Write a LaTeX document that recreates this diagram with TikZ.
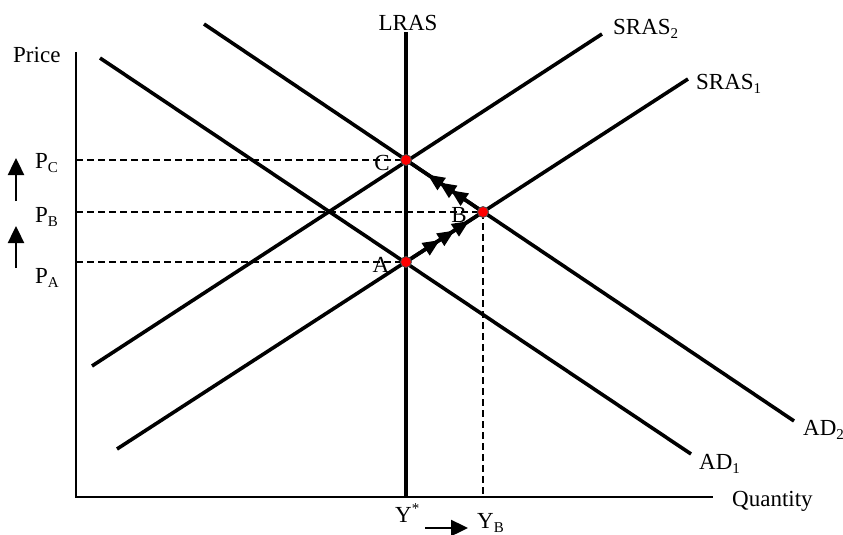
\documentclass[tikz,border=0pt]{standalone}
\usepackage{fontspec}
\setmainfont{Liberation Serif}
\usepackage{tikz}
\usetikzlibrary{arrows.meta,decorations.markings}
\newcommand{\lowtxt}[1]{\raisebox{-4pt}{\fontsize{15}{15}\selectfont #1}}
\newcommand{\hightxt}[1]{\raisebox{9pt}{\fontsize{15}{15}\selectfont #1}}
\tikzset{
  curve/.style={line width=3.6pt,draw=black},
  axis/.style={line width=2.4pt,draw=black},
  guide/.style={line width=1.8pt,dash pattern=on 7pt off 4pt},
  lbl/.style={inner sep=0pt,font=\fontsize{23}{27}\selectfont},
  eqpt/.style={circle,fill=red,draw=black!70,line width=0.8pt,inner sep=0pt,minimum size=11pt},
  tip/.style={-{Triangle[length=17pt,width=16pt]},line width=2.4pt},
  move/.style n args={3}{line width=3.6pt,postaction={decorate},decoration={markings,
    mark=at position #1 with {\arrow{Triangle[length=17pt,width=14pt]}},
    mark=at position #2 with {\arrow{Triangle[length=17pt,width=14pt]}},
    mark=at position #3 with {\arrow{Triangle[length=17pt,width=14pt]}}}},
}
\begin{document}
\begin{tikzpicture}[x=1pt,y=-1pt]
  \useasboundingbox (0,0) rectangle (843,535);
  % axes
  \coordinate (org) at (76,497);
  \coordinate (ytop) at (76,52);
  \coordinate (xend) at (713,497);
  \draw[axis] (ytop)--(org)--(xend);
  % equilibria
  \coordinate (A) at (406,262);
  \coordinate (B) at (483,212);
  \coordinate (C) at (406,160);
  % guides
  \coordinate (pc) at (76,160);
  \coordinate (pb) at (76,212);
  \coordinate (pa) at (76,262);
  \coordinate (yb) at (483,497);
  \draw[guide] (pc)--(C);
  \draw[guide] (pb)--(B);
  \draw[guide] (pa)--(A);
  \draw[guide] (B)--(yb);
  % curves
  \coordinate (lras0) at (406,497);
  \coordinate (lras1) at (406,32);
  \coordinate (ad1s) at (100,58);
  \coordinate (ad1e) at (691,454);
  \coordinate (ad2s) at (204,24);
  \coordinate (ad2e) at (794,421);
  \coordinate (sr1s) at (117,449);
  \coordinate (sr1e) at (688,79);
  \coordinate (sr2s) at (92,366);
  \coordinate (sr2e) at (602,34);
  \foreach \a/\b in {lras0/lras1,ad1s/ad1e,ad2s/ad2e,sr1s/sr1e,sr2s/sr2e}
    \draw[curve] (\a)--(\b);
  \draw[move={0.44}{0.63}{0.82}] (A)--(B);
  \draw[move={0.42}{0.57}{0.72}] (B)--(C);
  \node[eqpt] (ptA) at (A) {};
  \node[eqpt] (ptB) at (B) {};
  \node[eqpt] (ptC) at (C) {};
  % labels
  \node[lbl,anchor=base] (lA) at (381,272) {A};
  \node[lbl,anchor=base] (lB) at (459,222) {B};
  \node[lbl,anchor=base] (lC) at (382,170) {C};
  \node[lbl,anchor=base] (lras) at (408,31) {LRAS};
  \node[lbl,anchor=base west] (price) at (13,63) {Price};
  \node[lbl,anchor=base west] (qty) at (732,506) {Quantity};
  \node[lbl,anchor=base west] (sr1l) at (696,89) {SRAS\lowtxt{1}};
  \node[lbl,anchor=base west] (sr2l) at (613,35) {SRAS\lowtxt{2}};
  \node[lbl,anchor=base west] (ad1l) at (699,469) {AD\lowtxt{1}};
  \node[lbl,anchor=base west] (ad2l) at (803,435) {AD\lowtxt{2}};
  \node[lbl,anchor=base west] (pcl) at (35,168) {P\lowtxt{C}};
  \node[lbl,anchor=base west] (pbl) at (35,222) {P\lowtxt{B}};
  \node[lbl,anchor=base west] (pal) at (35,283) {P\lowtxt{A}};
  \node[lbl,anchor=base west] (ystar) at (395,522) {Y\hightxt{*}};
  \node[lbl,anchor=base west] (ybl) at (477,528) {Y\lowtxt{B}};
  % shifts
  \coordinate (up1s) at (16,201);
  \coordinate (up1e) at (16,158);
  \coordinate (up2s) at (16,268);
  \coordinate (up2e) at (16,226);
  \coordinate (rts) at (425,528);
  \coordinate (rte) at (468,528);
  \draw[tip] (up1s)--(up1e);
  \draw[tip] (up2s)--(up2e);
  \draw[tip] (rts)--(rte);
\end{tikzpicture}
\end{document}
